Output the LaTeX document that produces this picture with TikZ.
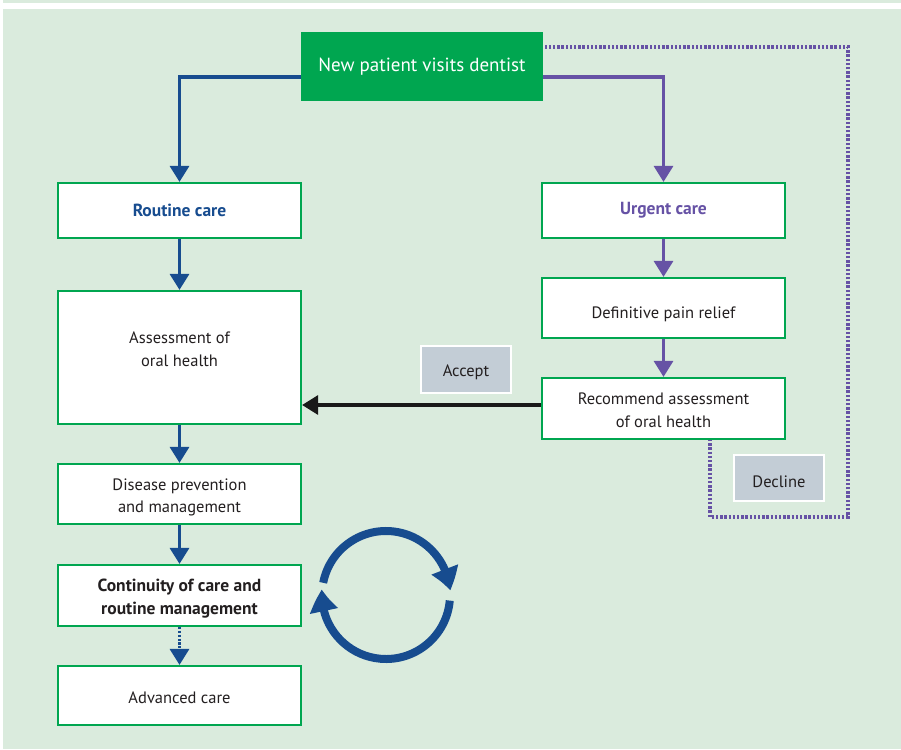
\documentclass[tikz,border=0pt]{standalone}
\usepackage{fontspec}
\setmainfont{PT Sans}
\usetikzlibrary{arrows.meta,bending,calc}
\definecolor{bgc}{HTML}{DAEBDD}
\definecolor{grn}{HTML}{00A650}
\definecolor{blu}{HTML}{174C8F}
\definecolor{pur}{HTML}{6652A5}
\definecolor{gry}{HTML}{C3CDD6}
\definecolor{txt}{HTML}{231F20}
\tikzset{
  box/.style={draw=grn, line width=2.2pt, fill=white, minimum width=243pt, inner sep=0pt, align=center, text=txt, font=\fontsize{16.5}{22.5}\selectfont},
  tag/.style={draw=white, line width=2pt, fill=gry, minimum width=90pt, minimum height=47pt, inner sep=0pt, text=txt, font=\fontsize{16.5}{22}\selectfont},
  basel/.style={text height=#1, text depth=0pt},
  barrow/.style={draw=blu, line width=3.2pt, -{Triangle[length=16pt,width=19pt]}},
  parrow/.style={draw=pur, line width=3.2pt, -{Triangle[length=16pt,width=19pt]}},
  karrow/.style={draw=black!90, line width=3.2pt, -{Triangle[length=16pt,width=19pt]}},
  dotline/.style={draw=pur, line width=3.4pt, dash pattern=on 2.4pt off 1.8pt},
  cyc/.style={draw=blu, line width=8pt, -{Triangle[length=22pt,width=27pt,bend]}}
}
\begin{document}
\begin{tikzpicture}[x=1pt,y=-1pt]
\useasboundingbox (0,0) rectangle (901,749);
\fill[white] (0,0) rectangle (901,749);
\fill[bgc] (3,0) rectangle (901,3);
\fill[bgc] (3,9) rectangle (901,749);

% dotted decline path (behind boxes)
\coordinate (d1) at (710,439);
\coordinate (d2) at (710,517);
\coordinate (d3) at (848,517);
\coordinate (d4) at (848,47);
\coordinate (d5) at (543,47);
\draw[dotline] (d1) -- (d2) -- (d3) -- (d4) -- (d5);

% nodes
\node[fill=grn, minimum width=242pt, minimum height=69pt, inner sep=0pt, text=white, font=\fontsize{19}{22}\selectfont] (np) at (422,66.5) {New patient visits dentist};
\node[box, minimum height=55pt, text=blu, font=\fontsize{17.5}{22}\selectfont\bfseries] (rc) at (179.5,210.5) {Routine care};
\node[box, minimum height=55pt, text=pur, font=\fontsize{17.5}{22}\selectfont\bfseries] (uc) at (663.5,210.5) {Urgent care};
\node[box, minimum height=133pt] (as) at (179.5,357.5) {};
\node[align=center, text=txt, font=\fontsize{16.5}{22.5}\selectfont, inner sep=0pt] (aslabel) at (179.5,349) {Assessment of\\oral health};
\node[box, basel=37.8pt, minimum height=60pt] (dp) at (179.5,494) {Disease prevention\\and management};
\node[box, basel=37.3pt, minimum height=61pt, font=\fontsize{17.5}{22.5}\selectfont\bfseries] (cc) at (179.5,595.5) {Continuity of care and\\routine management};
\node[box, basel=15pt, minimum height=59pt] (ac) at (179.5,695.5) {Advanced care};
\node[box, basel=20pt, minimum height=60pt] (pr) at (663.5,308) {Definitive pain relief};
\node[box, basel=37.6pt, minimum height=61pt] (ra) at (663.5,408.5) {Recommend assessment\\of oral health};
\node[tag, basel=14.6pt] (acc) at (466,369.5) {Accept};
\node[tag, basel=18pt, minimum height=46pt] (dec) at (779,478) {Decline};

% connectors
\coordinate (npl) at ($(np.west)+(0,10.5)$);
\coordinate (npr) at ($(np.east)+(0,10.5)$);
\draw[barrow] (npl) -| (rc.north);
\draw[parrow] (npr) -| (uc.north);
\draw[barrow] (rc) -- (as);
\draw[barrow] (as) -- (dp);
\draw[barrow] (dp) -- (cc);
\draw[draw=blu, line width=3.2pt, dash pattern=on 2.2pt off 1.6pt, -{Triangle[length=16pt,width=19pt]}] (cc) -- (ac);
\draw[parrow] (uc) -- (pr);
\draw[parrow] (pr) -- (ra);
\coordinate (raw) at ($(ra.west)+(0,-3.5)$);
\draw[karrow] (raw) -- (raw -| as.east);

% cycle arrows
\coordinate (C) at (386,595);
\draw[cyc] ([shift={(169:64pt)}]C) arc[start angle=169, end angle=4, radius=64pt];
\draw[cyc] ([shift={(-5:64pt)}]C) arc[start angle=-5, end angle=-185, radius=64pt];
\end{tikzpicture}
\end{document}
